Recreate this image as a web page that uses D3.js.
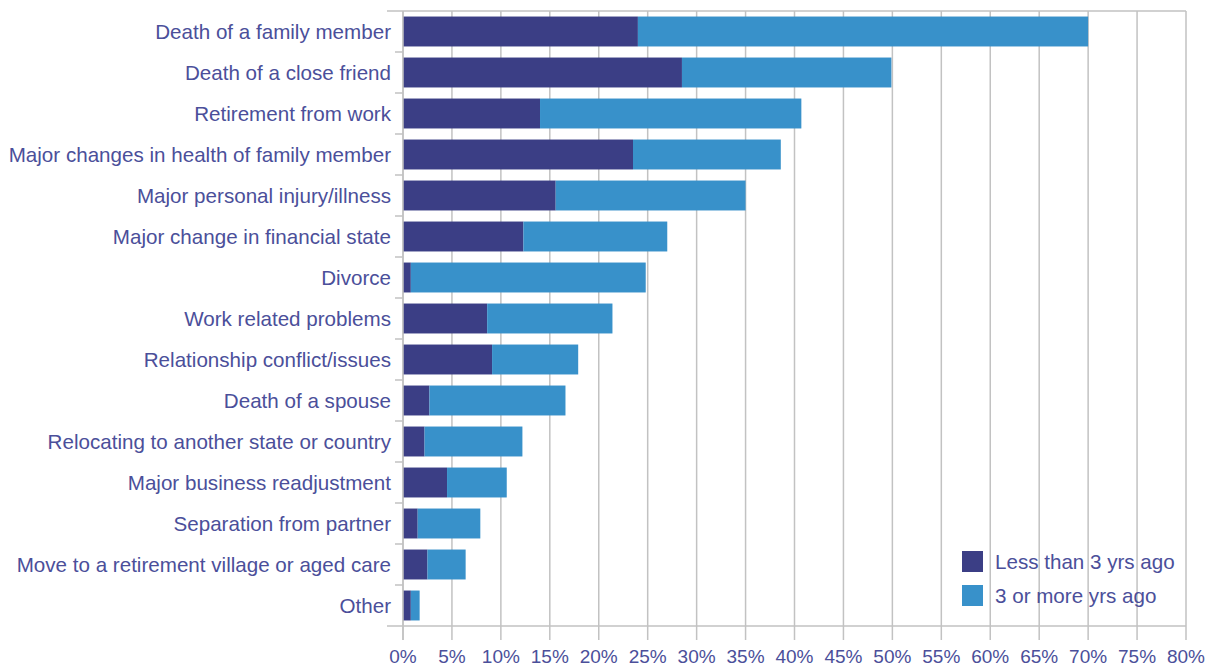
<!DOCTYPE html>
<html>
<head>
<meta charset="utf-8">
<script src="https://cdn.jsdelivr.net/npm/d3@7"></script>
<style>
  html, body { margin: 0; padding: 0; background: #fff; }
  svg { display: block; font-family: "Liberation Sans", Arial, Helvetica, sans-serif; }
</style>
</head>
<body>
<svg id="chart" width="1212" height="668"></svg>
<script>
// Life events experienced, split by how long ago they happened (% of respondents)
const categories = [
  "Death of a family member",
  "Death of a close friend",
  "Retirement from work",
  "Major changes in health of family member",
  "Major personal injury/illness",
  "Major change in financial state",
  "Divorce",
  "Work related problems",
  "Relationship conflict/issues",
  "Death of a spouse",
  "Relocating to another state or country",
  "Major business readjustment",
  "Separation from partner",
  "Move to a retirement village or aged care",
  "Other"
];
const lessThan3 = [24, 28.5, 14, 23.5, 15.6, 12.3, 0.8, 8.6, 9.1, 2.7, 2.2, 4.5, 1.5, 2.5, 0.8];
const threeOrMore = [46, 21.4, 26.7, 15.1, 19.4, 14.7, 24.0, 12.8, 8.8, 13.9, 10.0, 6.1, 6.4, 3.9, 0.9];
const seriesNames = ["Less than 3 yrs ago", "3 or more yrs ago"];
const seriesColors = ["#3b3e85", "#3891ca"];
const xTicks = d3.range(0, 81, 5);

const textColor = "#4b4f9a";
const gridColor = "#c2c2c2";

const svg = d3.select("#chart");
const margin = { top: 11, right: 26, bottom: 42, left: 403 };
const W = 1212, H = 668;
const innerW = W - margin.left - margin.right;
const innerH = H - margin.top - margin.bottom;

const g = svg.append("g").attr("transform", `translate(${margin.left},${margin.top})`);

const x = d3.scaleLinear().domain([0, 80]).range([0, innerW]);
const y = d3.scaleBand().domain(categories).range([0, innerH]).paddingInner(0.27).paddingOuter(0.135);
const yBand = d3.scaleBand().domain(categories).range([0, innerH]);

// vertical gridlines, extending below the axis as tick marks
g.append("g").selectAll("line").data(xTicks).join("line")
  .attr("x1", d => x(d)).attr("x2", d => x(d))
  .attr("y1", 0).attr("y2", innerH + 14)
  .attr("stroke", gridColor).attr("stroke-width", 1.5);

// top and bottom frame lines
[0, innerH].forEach(yy => {
  g.append("line")
    .attr("x1", -16).attr("x2", x(80))
    .attr("y1", yy).attr("y2", yy)
    .attr("stroke", gridColor).attr("stroke-width", 1.5);
});

// category separator ticks on the left axis
g.append("g").selectAll("line").data(categories.slice(1)).join("line")
  .attr("x1", -8).attr("x2", 0)
  .attr("y1", d => yBand(d)).attr("y2", d => yBand(d))
  .attr("stroke", gridColor).attr("stroke-width", 1.5);

// stacked bars
const rows = categories.map((c, i) => ({ cat: c, a: lessThan3[i], b: threeOrMore[i] }));
const stack = d3.stack().keys(["a", "b"])(rows);
g.append("g").selectAll("g").data(stack).join("g")
  .attr("fill", (d, i) => seriesColors[i])
  .selectAll("rect").data(d => d).join("rect")
  .attr("x", d => x(d[0]))
  .attr("width", d => x(d[1]) - x(d[0]))
  .attr("y", d => y(d.data.cat))
  .attr("height", y.bandwidth());

// left axis line
g.append("line")
  .attr("x1", 0).attr("x2", 0).attr("y1", 0).attr("y2", innerH + 14)
  .attr("stroke", gridColor).attr("stroke-width", 1.5);

// category labels
g.append("g").selectAll("text").data(categories).join("text")
  .attr("x", -12)
  .attr("y", d => yBand(d) + yBand.bandwidth() / 2)
  .attr("dy", "0.35em")
  .attr("text-anchor", "end")
  .attr("fill", textColor)
  .attr("font-size", 20.6)
  .text(d => d);

// x tick labels
g.append("g").selectAll("text").data(xTicks).join("text")
  .attr("x", d => x(d))
  .attr("y", innerH + 37)
  .attr("text-anchor", "middle")
  .attr("fill", textColor)
  .attr("font-size", 19)
  .text(d => d + "%");

// legend
const legend = svg.append("g").attr("transform", "translate(962,551)");
seriesNames.forEach((name, i) => {
  const row = legend.append("g").attr("transform", `translate(0,${i * 34})`);
  row.append("rect").attr("width", 21).attr("height", 21).attr("fill", seriesColors[i]);
  row.append("text").attr("x", 33).attr("y", 10.5).attr("dy", "0.35em")
    .attr("fill", textColor).attr("font-size", 20.6).text(name);
});
</script>
</body>
</html>
